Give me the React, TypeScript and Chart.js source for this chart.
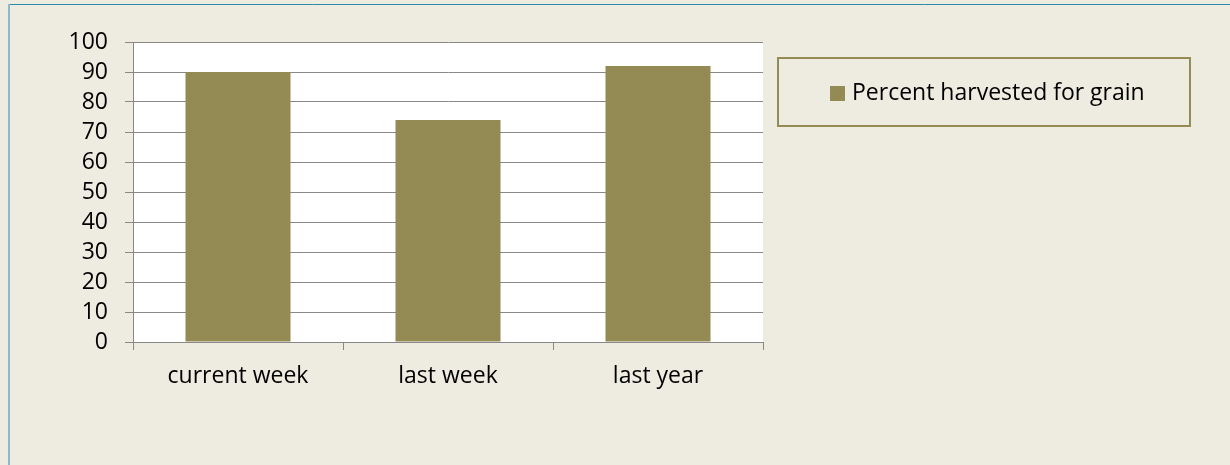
import React, { useEffect, useRef } from "react";
import { Chart, registerables } from "chart.js";

Chart.register(...registerables);

const categories: string[] = ["current week", "last week", "last year"];
const percentHarvested: number[] = [90, 74, 92];
const seriesLabel = "Percent harvested for grain";
const yMin = 0;
const yMax = 100;
const yStep = 10;

const FONT = "'Open Sans'";
const FONT_SIZE = 23;
const PAGE_BG = "#EEECE1";
const BAR_COLOR = "#948A54";
const GRID_COLOR = "#888888";

const backgroundPlugin = {
  id: "pageBackground",
  beforeDraw(chart: any) {
    const { ctx, chartArea } = chart;
    ctx.save();
    ctx.fillStyle = PAGE_BG;
    ctx.fillRect(0, 0, chart.width, chart.height);
    ctx.fillStyle = "#FFFFFF";
    ctx.fillRect(chartArea.left, chartArea.top, chartArea.right - chartArea.left, chartArea.bottom - chartArea.top);
    // outer frame (top and left edges visible)
    ctx.strokeStyle = "#2A8AAA";
    ctx.lineWidth = 1;
    ctx.beginPath();
    ctx.moveTo(8, 4.5);
    ctx.lineTo(chart.width, 4.5);
    ctx.stroke();
    ctx.strokeStyle = "#8DB9CA";
    ctx.lineWidth = 2;
    ctx.beginPath();
    ctx.moveTo(9, 4);
    ctx.lineTo(9, chart.height);
    ctx.stroke();
    ctx.restore();
  },
};

const boxLegendPlugin = {
  id: "boxLegend",
  afterDraw(chart: any) {
    const { ctx } = chart;
    const ds = chart.data.datasets[0];
    ctx.save();
    ctx.strokeStyle = BAR_COLOR;
    ctx.lineWidth = 2;
    ctx.strokeRect(778, 58, 412, 68);
    ctx.fillStyle = ds.backgroundColor;
    ctx.fillRect(830, 86, 15, 15);
    ctx.fillStyle = "#000000";
    ctx.font = `${FONT_SIZE}px ${FONT}`;
    ctx.textBaseline = "alphabetic";
    ctx.textAlign = "left";
    ctx.fillText(ds.label, 852, 100);
    ctx.restore();
  },
};

export default function App() {
  const canvasRef = useRef<HTMLCanvasElement | null>(null);

  useEffect(() => {
    const canvas = canvasRef.current;
    if (!canvas) return;
    const chart = new Chart(canvas, {
      type: "bar",
      data: {
        labels: categories,
        datasets: [
          {
            label: seriesLabel,
            data: percentHarvested,
            backgroundColor: BAR_COLOR,
            borderWidth: 0,
            barPercentage: 1,
            categoryPercentage: 0.5,
          },
        ],
      },
      options: {
        responsive: false,
        animation: false,
        devicePixelRatio: 1,
        layout: { padding: { left: 0, top: 42, right: 467, bottom: 0 } },
        plugins: {
          legend: { display: false },
          tooltip: { enabled: false },
          title: { display: false },
        },
        scales: {
          x: {
            offset: true,
            afterFit: (scale: any) => {
              scale.height = 123;
            },
            grid: {
              offset: true,
              drawOnChartArea: false,
              drawTicks: true,
              tickLength: 8,
              color: GRID_COLOR,
              lineWidth: 1,
            },
            border: { display: true, color: GRID_COLOR, width: 1 },
            ticks: {
              color: "#000000",
              font: { family: FONT, size: FONT_SIZE },
              padding: 13,
              maxRotation: 0,
              autoSkip: false,
            },
          },
          y: {
            min: yMin,
            max: yMax,
            afterFit: (scale: any) => {
              scale.width = 133;
            },
            grid: {
              drawTicks: true,
              tickLength: 8,
              color: GRID_COLOR,
              lineWidth: 1,
            },
            border: { display: true, color: GRID_COLOR, width: 1 },
            ticks: {
              stepSize: yStep,
              autoSkip: false,
              color: "#000000",
              font: { family: FONT, size: FONT_SIZE },
              padding: 17,
            },
          },
        },
      },
      plugins: [backgroundPlugin, boxLegendPlugin],
    });
    return () => chart.destroy();
  }, []);

  return (
    <canvas
      ref={canvasRef}
      width={1230}
      height={465}
      style={{ position: "absolute", left: 0, top: 0, width: 1230, height: 465 }}
    />
  );
}
